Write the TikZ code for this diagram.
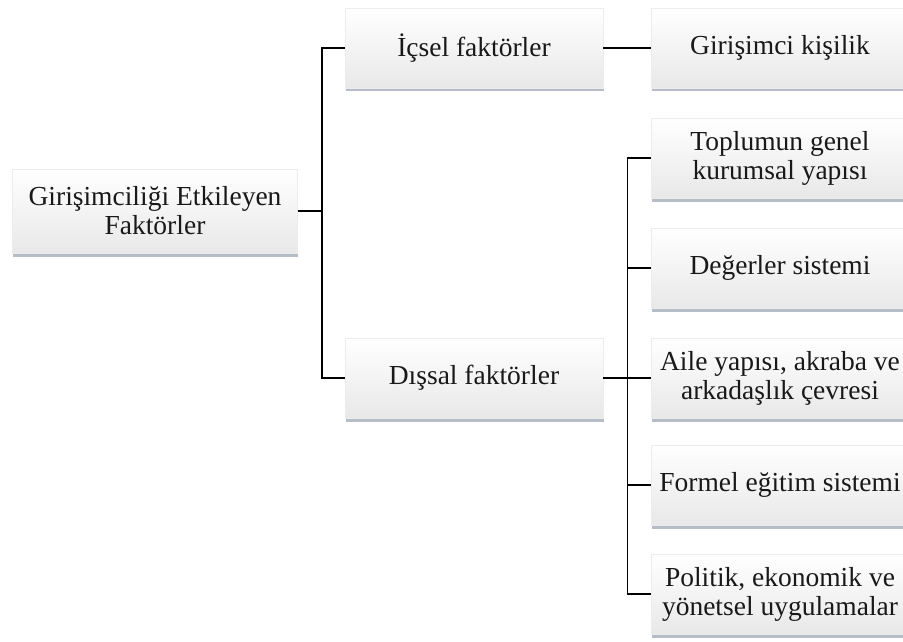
\documentclass[tikz,border=0pt]{standalone}
\usepackage{fontspec}
\setmainfont{Liberation Serif}
\usetikzlibrary{shadows}
\definecolor{shadowc}{RGB}{120,136,155}
\begin{document}
\begin{tikzpicture}[x=1pt,y=-1pt,
  box/.style={rectangle, minimum width=258pt, minimum height=80pt, inner sep=2pt,
    align=center, font=\fontsize{27.5}{29}\selectfont, text=black!90,
    top color=white, bottom color=gray!18, draw=gray!15, line width=0.6pt,
    drop shadow={shadow xshift=0.5pt, shadow yshift=-3.5pt, fill=shadowc, opacity=0.55}},
  conn/.style={draw=black, line width=1.5pt}]
\useasboundingbox (0,0) rectangle (903,642);
\clip (0,0) rectangle (903,642);
\node[box, minimum width=285pt, minimum height=84pt] (root) at (155,211) {Girişimciliği Etkileyen\\Faktörler};
\node[box] (ic) at (474,48) {İçsel faktörler};
\node[box] (dis) at (474,378) {Dışsal faktörler};
\node[box] (gk) at (780,48) {Girişimci kişilik};
\node[box] (tg) at (780,158) {Toplumun genel\\kurumsal yapısı};
\node[box] (ds) at (780,268) {Değerler sistemi};
\node[box] (ay) at (780,378) {Aile yapısı, akraba ve\\arkadaşlık çevresi};
\node[box] (fe) at (780,485) {Formel eğitim sistemi};
\node[box] (pe) at (780,594) {Politik, ekonomik ve\\yönetsel uygulamalar};
\draw[conn] (root.east) -- ++(24,0) |- (ic.west);
\draw[conn] (root.east) -- ++(24,0) |- (dis.west);
\draw[conn] (ic.east) -- (gk.west);
\foreach \c in {tg,ds,ay,fe,pe}
  \draw[conn] (dis.east) -- ++(24,0) |- (\c.west);
\end{tikzpicture}
\end{document}
